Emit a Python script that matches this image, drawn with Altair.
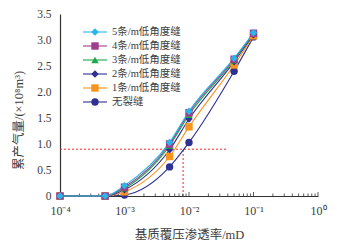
import altair as alt
import pandas as pd
import math

perm = [1e-4, 5e-4, 1e-3, 5e-3, 1e-2, 5e-2, 1e-1]
series_names = ["无裂缝", "1条/m低角度缝", "2条/m低角度缝", "3条/m低角度缝", "4条/m低角度缝", "5条/m低角度缝"]
series_vals = {
    "无裂缝":        [0.0, 0.0, 0.02, 0.56, 1.03, 2.40, 3.06],
    "1条/m低角度缝": [0.0, 0.0, 0.08, 0.76, 1.33, 2.52, 3.08],
    "2条/m低角度缝": [0.0, 0.0, 0.12, 0.89, 1.48, 2.58, 3.10],
    "3条/m低角度缝": [0.0, 0.0, 0.15, 0.97, 1.56, 2.61, 3.12],
    "4条/m低角度缝": [0.0, 0.0, 0.17, 1.00, 1.60, 2.63, 3.13],
    "5条/m低角度缝": [0.0, 0.0, 0.20, 1.03, 1.63, 2.65, 3.14],
}
colors = ["#2e3192", "#f7941d", "#2e3192", "#1fa64a", "#9e3f8e", "#29b6e8"]
shapes = ["circle", "square", "diamond", "triangle-up", "square", "diamond"]
legend_order = ["5条/m低角度缝", "4条/m低角度缝", "3条/m低角度缝", "2条/m低角度缝", "1条/m低角度缝", "无裂缝"]

decades = [1e-4, 1e-3, 1e-2, 1e-1, 1.0]
decade_labels = ["10⁻⁴", "10⁻³", "10⁻²", "10⁻¹", "10⁰"]
minor = [m * d for d in decades[:-1] for m in range(2, 10)]
y_ticks = [0, 0.5, 1.0, 1.5, 2.0, 2.5, 3.0, 3.5]

ref_y = [0.9]
ref_x_end = [0.04]
ref_x = [0.0081]

FONT = "Liberation Serif, Noto Sans CJK SC"
TXT = "#3c3c3c"
W = 258
H = 182.0
YMAX = 3.5

rows = []
for i, s in enumerate(series_names):
    for x, v in zip(perm, series_vals[s]):
        rows.append({"series": s, "order": i, "perm": x, "gas": v})
df = pd.DataFrame(rows)

expr = "''"
for val, lab in reversed(list(zip(decades, decade_labels))):
    expr = f"abs(log(datum.value)/log(10) - ({math.log10(val)})) < 0.01 ? '{lab}' : " + expr
lab_expr = expr

xscale = alt.Scale(type="log", domain=[1e-4, 1.0])
yscale = alt.Scale(domain=[0, YMAX])
cscale = alt.Scale(domain=series_names, range=colors)
sscale = alt.Scale(domain=series_names, range=shapes)

AX_X = alt.Axis(values=decades, labelExpr=lab_expr, ticks=False, grid=False,
                title="基质覆压渗透率/mD", labelPadding=9, titlePadding=12,
                labelFont=FONT, titleFont=FONT, labelFontSize=12, titleFontSize=12.5,
                labelColor=TXT, titleColor=TXT, titleFontWeight="normal",
                domainColor="#333333", labelFlush=False, labelOverlap=False)
AX_Y = alt.Axis(values=y_ticks, labelExpr="datum.value == 0 ? '0' : format(datum.value, '.1f')",
                ticks=False, grid=False, title="累产气量/(×10⁸m³)", labelPadding=9,
                labelFont=FONT, titleFont=FONT, labelFontSize=11.5, titleFontSize=12.5,
                labelColor=TXT, titleColor=TXT, titleFontWeight="normal",
                domainColor="#333333", titleX=-35, titleY=106, titleAnchor="middle",
                labelOverlap=False, labelFlush=False)

base = alt.Chart(df)

lines = base.mark_line(strokeWidth=1.1, interpolate="monotone", clip=False).encode(
    x=alt.X("perm:Q", scale=xscale, axis=AX_X),
    y=alt.Y("gas:Q", scale=yscale, axis=AX_Y),
    color=alt.Color("series:N", scale=cscale, legend=None),
    detail="series:N",
    order=alt.Order("perm:Q"),
)
points = base.mark_point(filled=True, size=55, opacity=1, clip=False).encode(
    x=alt.X("perm:Q", scale=xscale, axis=AX_X),
    y=alt.Y("gas:Q", scale=yscale, axis=AX_Y),
    color=alt.Color("series:N", scale=cscale, legend=None),
    shape=alt.Shape("series:N", scale=sscale, legend=None),
    order=alt.Order("order:Q"),
)

hdf = pd.DataFrame({"x0": [1e-4], "x1": ref_x_end, "y": ref_y})
vdf = pd.DataFrame({"x": ref_x, "y0": [0.0], "y1": ref_y})
hline = alt.Chart(hdf).mark_rule(color="#ff2020", strokeDash=[2, 2], strokeWidth=1).encode(
    x=alt.X("x0:Q", scale=xscale, axis=AX_X), x2="x1:Q",
    y=alt.Y("y:Q", scale=yscale, axis=AX_Y))
vline = alt.Chart(vdf).mark_rule(color="#ff2020", strokeDash=[2, 2], strokeWidth=1).encode(
    x=alt.X("x:Q", scale=xscale, axis=AX_X),
    y=alt.Y("y0:Q", scale=yscale, axis=AX_Y), y2="y1:Q")

tdf = pd.DataFrame({"t": minor + decades, "major": [0] * len(minor) + [1] * len(decades)})
ticks = alt.Chart(tdf).mark_rule(color="#333333", strokeWidth=0.8).transform_calculate(
    tb="0", tt=f"(datum.major == 1 ? 4 : 2.5) * {YMAX} / {H}"
).encode(
    x=alt.X("t:Q", scale=xscale, axis=AX_X),
    y=alt.Y("tb:Q", scale=yscale, axis=AX_Y),
    y2="tt:Q",
)

ldf = pd.DataFrame({"series": legend_order, "idx": list(range(len(legend_order)))})
lbase = alt.Chart(ldf).transform_calculate(ly=f"{YMAX} - (18 + 14 * datum.idx) * {YMAX} / {H}")
leg_line = lbase.mark_rule(strokeWidth=1.1).encode(
    x=alt.value(23), x2=alt.value(47),
    y=alt.Y("ly:Q", scale=yscale, axis=AX_Y),
    color=alt.Color("series:N", scale=cscale, legend=None),
)
leg_pt = lbase.mark_point(filled=True, size=55, opacity=1).encode(
    x=alt.value(35),
    y=alt.Y("ly:Q", scale=yscale, axis=AX_Y),
    color=alt.Color("series:N", scale=cscale, legend=None),
    shape=alt.Shape("series:N", scale=sscale, legend=None),
)
leg_txt = lbase.mark_text(align="left", baseline="middle", font=FONT, fontSize=10.5, color=TXT).encode(
    x=alt.value(52),
    y=alt.Y("ly:Q", scale=yscale, axis=AX_Y),
    text="series:N",
)

chart = alt.layer(hline, vline, ticks, lines, points, leg_line, leg_pt, leg_txt).properties(
    width=W, height=H,
    autosize=alt.AutoSizeParams(type="none"),
    padding={"left": 52, "top": 6, "right": 10, "bottom": 45},
).configure_view(stroke=None).configure_axis(domainWidth=1.2)

chart.save("out.html", embed_options={"renderer": "svg", "actions": False})
